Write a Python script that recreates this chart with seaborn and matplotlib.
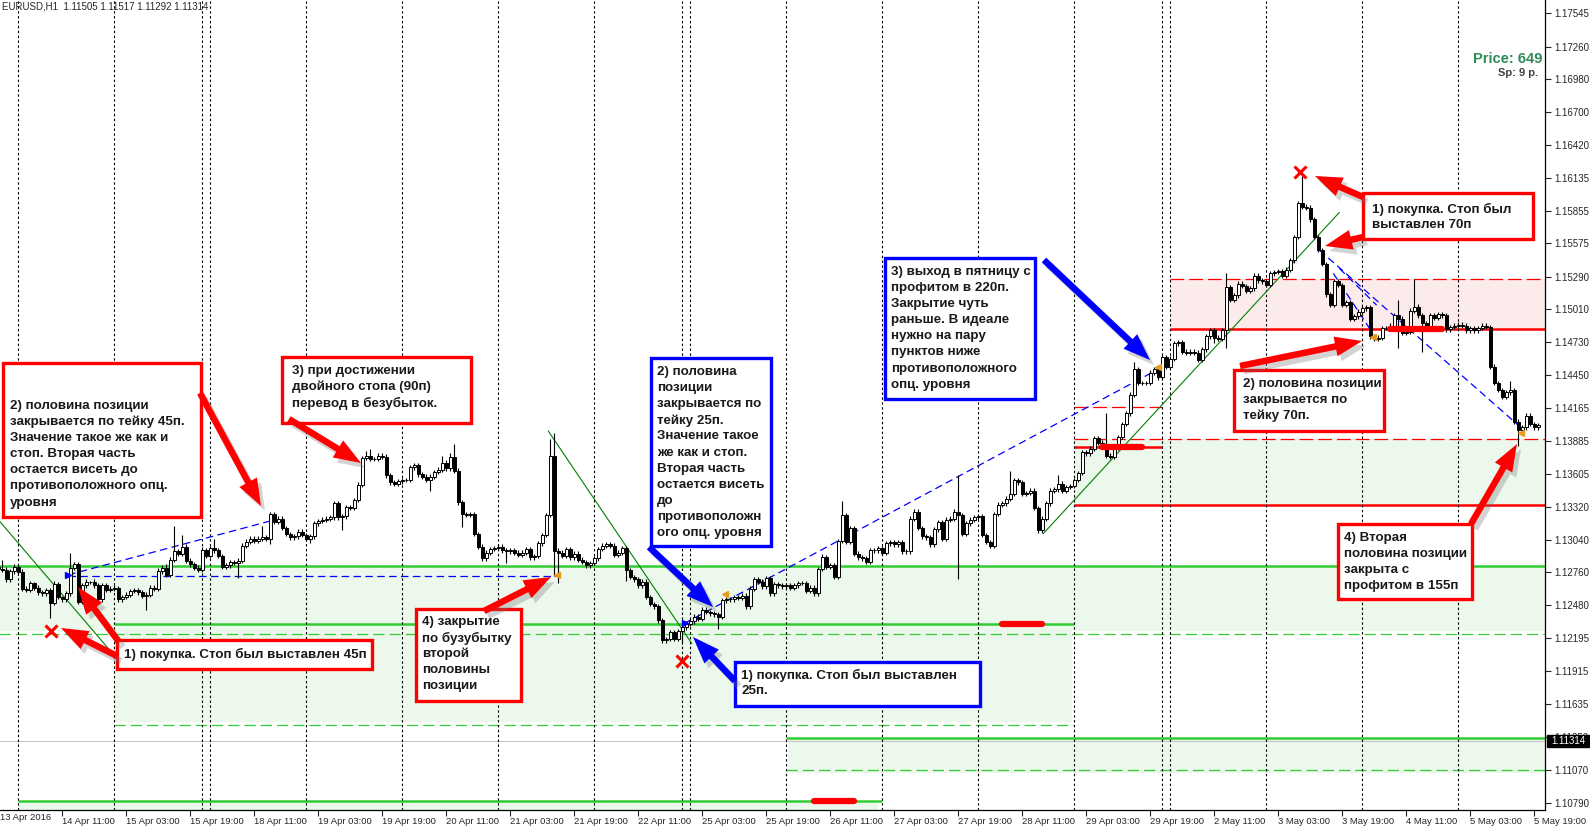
import matplotlib
matplotlib.use('Agg')
import matplotlib.pyplot as plt
import numpy as np
import seaborn as sns
from matplotlib.patches import Rectangle, FancyArrow

sns.set_style('white')
plt.rcParams['font.family'] = ['Liberation Sans', 'DejaVu Sans']

# EURUSD H1, closes in pips above 1.1000 (bar 0 = 13 Apr 19:00)
first_open_pips = 281
close_pips = [
    279, 278, 270, 277, 281, 276, 262, 261, 267, 263, 259, 258, 261, 250, 266, 255, 253, 258, 280, 283,
    251, 265, 268, 268, 265, 253, 265, 261, 262, 263, 253, 255, 257, 260, 261, 259, 256, 257, 263, 262,
    277, 280, 274, 287, 294, 292, 298, 286, 283, 280, 278, 295, 290, 297, 295, 290, 281, 282, 285, 284,
    286, 299, 302, 305, 303, 305, 306, 305, 326, 319, 322, 314, 309, 306, 307, 311, 308, 305, 307, 318,
    320, 321, 322, 323, 335, 323, 324, 332, 331, 338, 351, 374, 376, 373, 373, 376, 375, 359, 353, 352,
    354, 355, 355, 366, 368, 360, 358, 355, 358, 362, 364, 370, 365, 375, 363, 336, 326, 325, 326, 309,
    298, 288, 293, 296, 297, 298, 295, 294, 295, 293, 291, 293, 296, 289, 290, 301, 308, 325, 376, 294,
    293, 290, 296, 289, 292, 287, 285, 282, 284, 288, 296, 299, 300, 299, 291, 293, 297, 278, 272, 270,
    265, 268, 255, 249, 247, 235, 218, 219, 225, 219, 226, 229, 232, 234, 238, 236, 244, 242, 241, 240,
    238, 252, 253, 253, 255, 254, 256, 247, 262, 270, 268, 264, 271, 258, 266, 265, 264, 265, 263, 265,
    267, 267, 260, 263, 258, 279, 289, 281, 282, 272, 303, 325, 302, 314, 292, 289, 288, 285, 295, 295,
    297, 293, 301, 302, 300, 302, 294, 294, 322, 328, 314, 307, 306, 300, 313, 319, 305, 321, 322, 328,
    325, 309, 318, 321, 323, 324, 308, 302, 299, 326, 334, 335, 339, 343, 355, 353, 343, 344, 346, 331,
    312, 322, 335, 346, 347, 352, 346, 349, 350, 355, 361, 379, 378, 382, 391, 387, 384, 376, 375, 383,
    392, 403, 412, 428, 450, 438, 438, 438, 447, 450, 443, 460, 452, 459, 472, 473, 465, 464, 465, 464,
    458, 467, 478, 483, 477, 476, 483, 520, 509, 513, 523, 521, 517, 519, 530, 526, 525, 522, 532, 533,
    534, 530, 535, 543, 563, 592, 589, 588, 578, 563, 552, 540, 514, 505, 525, 522, 505, 507, 493, 495,
    499, 502, 503, 478, 476, 477, 485, 485, 487, 496, 493, 481, 482, 500, 503, 496, 489, 486, 496, 494,
    497, 496, 484, 486, 487, 488, 487, 483, 485, 483, 485, 487, 486, 452, 438, 432, 426, 430, 432, 405,
    398, 400, 410, 403, 400, 402,
]
wick_up_pips = [
    2, 8, 3, 2, 2, 2, 3, 2, 2, 1, 2, 2, 2, 2, 3, 2, 1, 2, 13, 2,
    2, 2, 2, 1, 2, 2, 2, 2, 2, 2, 1, 2, 2, 2, 2, 2, 2, 2, 2, 2,
    3, 2, 3, 2, 22, 2, 10, 2, 2, 2, 2, 3, 2, 2, 8, 2, 2, 2, 2, 2,
    2, 2, 3, 2, 2, 2, 10, 2, 2, 2, 2, 2, 2, 2, 2, 2, 2, 2, 2, 2,
    2, 2, 2, 2, 2, 2, 2, 2, 2, 2, 2, 2, 4, 6, 2, 2, 2, 2, 2, 2,
    2, 2, 2, 2, 2, 2, 2, 2, 2, 2, 2, 6, 2, 3, 11, 2, 2, 2, 2, 2,
    2, 2, 2, 2, 2, 2, 2, 2, 2, 2, 2, 2, 2, 2, 2, 2, 2, 2, 14, 19,
    3, 2, 2, 2, 2, 2, 2, 2, 2, 2, 2, 2, 2, 2, 2, 2, 2, 2, 2, 2,
    2, 2, 2, 2, 2, 2, 2, 2, 2, 2, 2, 2, 2, 2, 2, 2, 2, 2, 2, 2,
    2, 2, 2, 2, 2, 2, 2, 2, 2, 2, 2, 2, 2, 2, 2, 2, 2, 2, 2, 2,
    2, 2, 2, 2, 2, 2, 3, 2, 2, 2, 2, 12, 2, 2, 2, 2, 2, 2, 2, 2,
    2, 2, 2, 2, 2, 2, 2, 2, 2, 2, 2, 2, 2, 2, 2, 2, 2, 2, 2, 2,
    31, 2, 2, 2, 2, 2, 2, 2, 2, 2, 2, 2, 2, 20, 2, 2, 2, 2, 2, 2,
    2, 2, 2, 2, 2, 7, 2, 2, 2, 2, 2, 2, 2, 2, 2, 2, 2, 28, 2, 2,
    2, 2, 2, 2, 6, 2, 2, 2, 2, 2, 2, 2, 2, 2, 2, 2, 2, 2, 2, 2,
    2, 2, 2, 2, 2, 2, 2, 12, 2, 2, 2, 2, 2, 2, 2, 2, 2, 2, 2, 2,
    2, 2, 2, 2, 2, 2, 23, 2, 2, 2, 2, 2, 2, 2, 2, 2, 2, 2, 2, 2,
    2, 2, 2, 2, 2, 2, 2, 2, 2, 2, 13, 2, 2, 2, 24, 3, 2, 2, 2, 2,
    2, 2, 2, 2, 2, 2, 2, 2, 2, 2, 2, 2, 2, 2, 2, 2, 2, 2, 8, 2,
    2, 2, 2, 2, 2, 2,
]
wick_down_pips = [
    2, 2, 2, 2, 2, 2, 2, 2, 2, 2, 2, 2, 2, 13, 2, 2, 2, 2, 2, 2,
    2, 2, 2, 2, 2, 2, 2, 2, 2, 2, 2, 2, 2, 2, 2, 2, 2, 12, 2, 2,
    2, 2, 2, 2, 2, 2, 2, 2, 2, 2, 2, 2, 2, 2, 2, 2, 2, 2, 2, 2,
    13, 2, 2, 2, 2, 2, 2, 2, 5, 2, 2, 2, 2, 2, 2, 2, 2, 2, 4, 2,
    2, 2, 2, 2, 2, 2, 11, 2, 2, 2, 2, 2, 2, 2, 2, 2, 2, 2, 2, 2,
    2, 2, 2, 2, 2, 2, 2, 2, 9, 2, 2, 2, 2, 2, 2, 2, 11, 2, 2, 2,
    2, 2, 2, 2, 2, 2, 2, 10, 2, 2, 2, 2, 2, 2, 2, 2, 2, 2, 2, 21,
    26, 2, 2, 2, 2, 2, 2, 2, 2, 2, 2, 2, 2, 2, 2, 2, 2, 9, 2, 2,
    2, 2, 2, 2, 2, 2, 2, 2, 2, 2, 2, 11, 2, 2, 2, 2, 2, 2, 2, 2,
    10, 2, 2, 2, 2, 2, 2, 2, 2, 2, 2, 2, 2, 2, 2, 2, 2, 2, 2, 2,
    2, 2, 2, 2, 2, 2, 2, 2, 2, 2, 2, 2, 2, 2, 2, 2, 2, 2, 2, 2,
    2, 2, 2, 2, 2, 2, 2, 2, 2, 2, 2, 2, 2, 2, 2, 2, 2, 2, 2, 2,
    55, 2, 2, 2, 2, 2, 2, 2, 2, 2, 2, 2, 2, 2, 2, 2, 2, 2, 2, 2,
    2, 2, 2, 2, 2, 2, 2, 2, 2, 2, 2, 2, 2, 2, 2, 2, 2, 2, 2, 2,
    2, 2, 2, 2, 2, 2, 2, 2, 2, 2, 2, 2, 2, 2, 2, 2, 2, 2, 2, 2,
    2, 2, 2, 2, 5, 2, 2, 15, 2, 2, 2, 2, 2, 2, 2, 2, 2, 2, 2, 2,
    2, 2, 2, 2, 2, 2, 2, 2, 2, 2, 2, 2, 2, 2, 2, 2, 2, 2, 2, 2,
    2, 2, 2, 2, 2, 2, 2, 2, 2, 2, 25, 2, 2, 2, 2, 2, 24, 2, 2, 2,
    2, 2, 2, 2, 2, 2, 2, 2, 2, 2, 2, 2, 2, 2, 2, 2, 2, 2, 2, 2,
    14, 2, 2, 2, 2, 2,
]

price_ticks = [1.17545, 1.17260, 1.16980, 1.16700, 1.16420, 1.16135, 1.15855, 1.15575, 1.15290,
               1.15010, 1.14730, 1.14450, 1.14165, 1.13885, 1.13605, 1.13320, 1.13040, 1.12760,
               1.12480, 1.12195, 1.11915, 1.11635, 1.11350, 1.11070, 1.10790]
time_labels = ['14 Apr 11:00', '15 Apr 03:00', '15 Apr 19:00', '18 Apr 11:00', '19 Apr 03:00',
               '19 Apr 19:00', '20 Apr 11:00', '21 Apr 03:00', '21 Apr 19:00', '22 Apr 11:00',
               '25 Apr 03:00', '25 Apr 19:00', '26 Apr 11:00', '27 Apr 03:00', '27 Apr 19:00',
               '28 Apr 11:00', '29 Apr 03:00', '29 Apr 19:00', '2 May 11:00', '3 May 03:00',
               '3 May 19:00', '4 May 11:00', '5 May 03:00', '5 May 19:00']
time_label_bars = [16, 32, 48, 64, 80, 96, 112, 128, 144, 160, 176, 192, 208, 224, 240, 256,
                   272, 288, 304, 320, 336, 352, 368, 384]
separator_bars = [5, 29, 51, 53, 77, 101, 125, 149, 171, 173, 197, 221, 245, 269, 291, 293,
                  317, 341, 365]

END = 392
# option levels: (price, first bar, last bar)
green_solid_levels = [(1.12811, 0, END), (1.12317, 29, 269), (1.11345, 197, END), (1.10808, 5, 221)]
green_dash_levels = [(1.12235, 0, END), (1.11455, 29, 269), (1.11065, 197, END)]
red_solid_levels = [(1.14840, 293, END), (1.13834, 269, 291), (1.13340, 269, END)]
red_dash_levels = [(1.15273, 293, END), (1.14172, 269, 291), (1.13904, 269, END)]
red_thick_levels = [(1.13834, 276, 286), (1.14840, 348, 361), (1.12317, 251, 261), (1.10808, 204, 214)]
# zones: (low, high, first bar, last bar)
green_zones = [(1.12258, 1.12811, 0, END), (1.11480, 1.12258, 29, 268.5), (1.11040, 1.11350, 197.5, END),
               (1.10000, 1.10808, 5, 220), (1.13340, 1.13904, 269, END)]
pink_zones = [(1.14840, 1.15273, 293, END)]

green_trends = [((0.5, 1.13192), (29, 1.12050)), ((137.5, 1.13971), (173.4, 1.12151)),
                ((261.3, 1.13093), (335.3, 1.15841))]
blue_trends = [((17.5, 1.12739), (68.9, 1.13208)), ((171.5, 1.12323), (289, 1.14480)),
               ((330.3, 1.15518), (380.5, 1.14005)), ((335.3, 1.15361), (344.6, 1.15047)),
               ((333.8, 1.15318), (343.4, 1.14819)), ((17.5, 1.12732), (139.5, 1.12732))]
stop_marks = [(13.1, 1.12261), (171.0, 1.12002), (325.5, 1.16183)]
entry_marks = [(17.5, 1.12739), (171.7, 1.12323)]
close_marks = [(139.8, 1.12742), (181.7, 1.12579), (290.0, 1.14514), (343.6, 1.14776), (380.6, 1.13954)]
bid_price = 1.11314

# ---- candles ----
close = 1.1 + np.array(close_pips) / 10000
open_ = np.concatenate([[1.1 + first_open_pips / 10000], close[:-1]])
high = np.maximum(open_, close) + np.array(wick_up_pips) / 10000
low = np.minimum(open_, close) - np.array(wick_down_pips) / 10000
bars = np.arange(len(close))

fig = plt.figure(figsize=(15.9, 8.31), dpi=100)
ax = fig.add_axes([0, 21 / 831, 1545 / 1590, 810 / 831])
ax.set_xlim(0.45, 386.7)
ax.set_ylim(1.10727, 1.17658)

for lo_, hi_, a, b in green_zones:
    ax.fill_between([a, b], lo_, hi_, color='#ebf8eb', lw=0, zorder=0)
for lo_, hi_, a, b in pink_zones:
    ax.fill_between([a, b], lo_, hi_, color='#fcebeb', lw=0, zorder=0)

ax.axhline(bid_price, color='#c8c8c8', lw=0.8, zorder=0.5)
for p, a, b in green_solid_levels:
    ax.plot([a, b], [p, p], color='#32cd32', lw=1.8, zorder=1, solid_capstyle='butt')
for p, a, b in green_dash_levels:
    ax.plot([a, b], [p, p], color='#32cd32', lw=0.9, dashes=(9, 4), zorder=1)
for p, a, b in red_solid_levels:
    ax.plot([a, b], [p, p], color='#ff0000', lw=1.8, zorder=1, solid_capstyle='butt')
for p, a, b in red_dash_levels:
    ax.plot([a, b], [p, p], color='#ff0000', lw=0.9, dashes=(11, 4), zorder=1)
for p, a, b in red_thick_levels:
    ax.plot([a, b], [p, p], color='#ff0000', lw=4.5, zorder=3.5, solid_capstyle='round')

for s in separator_bars:
    ax.axvline(s, color='black', lw=0.8, dashes=(2.2, 2.2), zorder=1.5)

for (x0, y0), (x1, y1) in green_trends:
    sns.lineplot(x=[x0, x1], y=[y0, y1], ax=ax, color='#008000', lw=0.8, zorder=2)
for (x0, y0), (x1, y1) in blue_trends:
    ax.plot([x0, x1], [y0, y1], color='#0000ff', lw=0.9, dashes=(6, 3.5), zorder=2)

bull = close >= open_
ax.vlines(bars, low, high, color='black', lw=0.8, zorder=3)
body = np.maximum(np.abs(close - open_), 0.00002)
ax.bar(bars[bull], body[bull], bottom=np.minimum(open_, close)[bull], width=0.72,
       color='white', edgecolor='black', lw=0.7, zorder=3.2)
ax.bar(bars[~bull], body[~bull], bottom=np.minimum(open_, close)[~bull], width=0.72,
       color='black', edgecolor='black', lw=0.7, zorder=3.2)

ax.plot(*zip(*stop_marks), 'x', color='#ff0000', ms=8, mew=2.2, zorder=4)
ax.plot(*zip(*entry_marks), '>', color='#0000ff', ms=4, zorder=4)
ax.plot(*zip(*close_marks), '<', color='#e89a20', ms=4, zorder=4)

# ---- axes ----
for sp in ['left', 'top']:
    ax.spines[sp].set_visible(False)
for sp in ['right', 'bottom']:
    ax.spines[sp].set_color('black')
    ax.spines[sp].set_linewidth(0.9)
ax.yaxis.tick_right()
ax.set_yticks(price_ticks)
ax.set_yticklabels([f'{p:.5f}' for p in price_ticks], fontsize=7)
ax.set_xticks(time_label_bars)
ax.set_xticklabels(time_labels, fontsize=6.8, ha='left')
ax.tick_params(axis='y', direction='out', length=4, width=0.8, pad=3, right=True, left=False)
ax.tick_params(axis='x', direction='out', length=4, width=0.8, pad=1, bottom=True)
ax.text(0, -0.0035, '13 Apr 2016', transform=ax.transAxes, fontsize=6.8, va='top', ha='left')
ax.text(0.0015, 0.9925, 'EURUSD,H1  1.11505 1.11517 1.11292 1.11314', transform=ax.transAxes,
        fontsize=7, va='center', ha='left')

# ---- annotation overlay in pixels ----
ov = fig.add_axes([0, 0, 1, 1], zorder=5)
ov.set_xlim(0, 1590)
ov.set_ylim(831, 0)
ov.axis('off')
ov.patch.set_alpha(0)

ov.add_patch(Rectangle((1547, 735), 42, 12, color='black'))
ov.text(1568, 741, '1.11314', color='white', fontsize=7, ha='center', va='center')
ov.text(1542, 59, 'Price: 649', color='#2e8b57', fontsize=10.5, fontweight='bold', ha='right', va='center')
ov.text(1538, 73, 'Sp: 9 p.', color='#404040', fontsize=8, fontweight='bold', ha='right', va='center')

RED, BLUE = '#ff0000', '#0000ff'
boxes = [
    (RED, (3, 363, 201, 517), 10, 406, ['2) половина позиции', 'закрывается по тейку 45п.',
                                        'Значение такое же как и', 'стоп. Вторая часть',
                                        'остается висеть до', 'противоположного опц.', 'уровня']),
    (RED, (282, 357, 471, 423), 292, 371, ['3) при достижении', 'двойного стопа (90п)',
                                          'перевод в безубыток.']),
    (RED, (117, 640, 372, 669), 124, 654, ['1) покупка. Стоп был выставлен 45п']),
    (RED, (416, 609, 521, 701), 422, 622, ['4) закрытие', 'по бузубытку', 'второй', 'половины',
                                          'позиции']),
    (RED, (1363, 193, 1533, 239), 1372, 209, ['1) покупка. Стоп был', 'выставлен 70п']),
    (RED, (1234, 370, 1384, 431), 1243, 384, ['2) половина позиции', 'закрывается по',
                                            'тейку 70п.']),
    (RED, (1338, 524, 1472, 599), 1344, 538, ['4) Вторая', 'половина позиции', 'закрыта с',
                                            'профитом в 155п']),
    (BLUE, (651, 358, 771, 546), 657, 372, ['2) половина', 'позиции', 'закрывается по',
                                           'тейку 25п.', 'Значение такое', 'же как и стоп.',
                                           'Вторая часть', 'остается висеть', 'до',
                                           'противоположн', 'ого опц. уровня']),
    (BLUE, (885, 258, 1035, 399), 891, 272, ['3) выход в пятницу с', 'профитом в 220п.',
                                            'Закрытие чуть', 'раньше. В идеале',
                                            'нужно на пару', 'пунктов ниже',
                                            'противоположного', 'опц. уровня']),
    (BLUE, (735, 662, 980, 706), 741, 675, ['1) покупка. Стоп был выставлен', '25п.']),
]
for col, (x0, y0, x1, y1), tx, ty, lines in boxes:
    ov.add_patch(Rectangle((x0, y0), x1 - x0, y1 - y0, facecolor='white', edgecolor=col, lw=2.4))
    for k, line in enumerate(lines):
        ov.text(tx, ty + 16.1 * k, line, fontsize=9.6, fontweight='bold', color='#1a1a1a',
                ha='left', va='center')

arrows = [
    (RED, 200, 393, 261, 506), (RED, 289, 419, 361, 463), (RED, 117, 656, 61, 628),
    (RED, 119, 642, 78, 587), (RED, 484, 611, 551, 577), (RED, 1363, 197, 1315, 176),
    (RED, 1363, 237, 1325, 246), (RED, 1240, 366, 1362, 341), (RED, 1471, 524, 1517, 444),
    (BLUE, 649, 547, 713, 607), (BLUE, 735, 681, 693, 637), (BLUE, 1044, 260, 1150, 360),
]
for col, x0, y0, x1, y1 in arrows:
    ov.add_patch(FancyArrow(x0 + 4, y0 + 5, x1 - x0, y1 - y0, width=6.5, head_width=20,
                            head_length=27, length_includes_head=True, color='#707070',
                            alpha=0.3, lw=0))
    ov.add_patch(FancyArrow(x0, y0, x1 - x0, y1 - y0, width=6.5, head_width=20, head_length=27,
                            length_includes_head=True, color=col, lw=0))

fig.savefig('out.png', dpi=100)
